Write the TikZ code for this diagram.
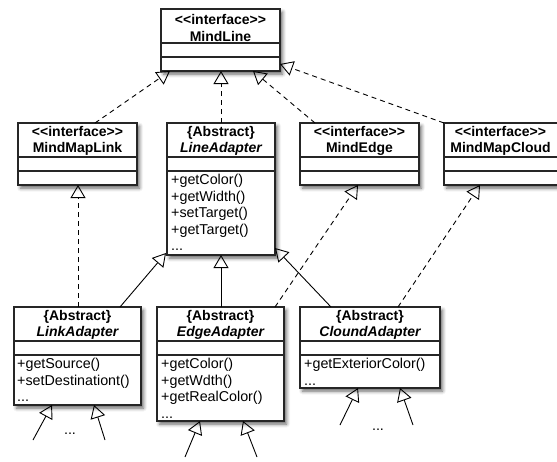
\documentclass[tikz,border=0pt]{standalone}
\usepackage{fontspec}
\setmainfont{Liberation Sans}
\usetikzlibrary{arrows.meta,shadows.blur,calc}

\newcommand{\stereo}[1]{<{}<#1>{}>}

\tikzset{
  classbox/.style={draw=black!85, line width=1.4pt, fill=white, anchor=north west,
    inner sep=0pt, outer sep=0pt,
    blur shadow={shadow xshift=2.5pt, shadow yshift=-3pt, shadow blur radius=3.5pt, shadow opacity=60}},
  divider/.style={draw=black!85, line width=1.4pt},
  titletext/.style={align=center, inner sep=0pt, font=\fontsize{14}{16.5}\selectfont\bfseries},
  membertext/.style={align=left, anchor=north west, inner sep=0pt,
    font=\fontsize{14.3}{16.5}\selectfont},
  realize/.style={draw=black, line width=0.9pt, dash pattern=on 5pt off 4pt,
    -{Triangle[open, length=13pt, width=15pt, line width=0.9pt]}},
  inherit/.style={draw=black, line width=0.9pt,
    -{Triangle[open, length=13pt, width=15pt, line width=0.9pt]}},
}

\begin{document}
\begin{tikzpicture}[x=1pt, y=-1pt]
\useasboundingbox (0,0) rectangle (557,461);

% ---------- interfaces ----------
\node[classbox, minimum width=119pt, minimum height=62pt] (ml) at (161,9) {};
\draw[divider] (161,43) -- (280,43) (161,57) -- (280,57);
\node[titletext] (mlt) at (220.5,28) {\stereo{interface}\\MindLine};

\node[classbox, minimum width=119pt, minimum height=62pt] (mml) at (18,123) {};
\draw[divider] (18,157) -- (137,157) (18,171) -- (137,171);
\node[titletext] (mmlt) at (77.5,141) {\stereo{interface}\\MindMapLink};

\node[classbox, minimum width=119pt, minimum height=62pt] (me) at (300,123) {};
\draw[divider] (300,157) -- (419,157) (300,171) -- (419,171);
\node[titletext] (met) at (359.5,141) {\stereo{interface}\\MindEdge};

\node[classbox, minimum width=115pt, minimum height=62pt] (mmc) at (444,123) {};
\draw[divider] (444,157) -- (559,157) (444,171) -- (559,171);
\node[titletext] (mmct) at (500.5,141) {\stereo{interface}\\MindMapCloud};

% ---------- abstract line adapter ----------
\node[classbox, minimum width=108pt, minimum height=132pt] (la) at (167,123) {};
\draw[divider] (167,157) -- (275,157) (167,171) -- (275,171);
\node[titletext] (lat) at (221,141) {\{Abstract\}\\\itshape LineAdapter};
\node[membertext] (lam) at (171,174) {+getColor()\\+getWidth()\\+setTarget()\\+getTarget()\\...};

% ---------- concrete adapters ----------
\node[classbox, minimum width=127pt, minimum height=98pt] (lka) at (14,307) {};
\draw[divider] (14,341) -- (141,341) (14,355) -- (141,355);
\node[titletext] (lkat) at (77.5,325) {\{Abstract\}\\\itshape LinkAdapter};
\node[membertext] (lkam) at (17,358) {+getSource()\\+setDestinationt()\\...};

\node[classbox, minimum width=127pt, minimum height=114pt] (ea) at (157,307) {};
\draw[divider] (157,341) -- (284,341) (157,355) -- (284,355);
\node[titletext] (eat) at (220.5,325) {\{Abstract\}\\\itshape EdgeAdapter};
\node[membertext] (eam) at (161,358) {+getColor()\\+getWdth()\\+getRealColor()\\...};

\node[classbox, minimum width=140pt, minimum height=81pt] (ca) at (300,307) {};
\draw[divider] (300,341) -- (440,341) (300,355) -- (440,355);
\node[titletext] (cat) at (370,325) {\{Abstract\}\\\itshape CloundAdapter};
\node[membertext] (cam) at (304,358) {+getExteriorColor()\\...};

% ---------- realizations of MindLine ----------
\draw[realize] ($(mml.north west)+(77,0)$) -- ($(ml.south west)+(9,0)$);
\draw[realize] (la.north) -- (la.north |- ml.south);
\draw[realize] ($(me.north west)+(15,0)$) -- ($(ml.south west)+(92,0)$);
\draw[realize] (mmc.north west) -- ($(ml.south east)+(0,-7)$);

% ---------- generalizations of LineAdapter ----------
\draw[inherit] ($(lka.north west)+(106,0)$) -- ($(la.south west)+(-1,-2)$);
\draw[inherit] (la.south |- ea.north) -- (la.south);
\draw[inherit] ($(ca.north west)+(31,0)$) -- ($(la.south east)+(0,-7)$);

% ---------- realizations of the other interfaces ----------
\draw[realize] ($(lka.north west)+(64,0)$) -- ($(mml.south west)+(60,0)$);
\draw[realize] ($(ea.north west)+(118,0)$) -- ($(me.south west)+(58,0)$);
\draw[realize] ($(ca.north west)+(98,0)$) -- ($(mmc.south west)+(36,0)$);

% ---------- further subclasses ----------
\coordinate (s1) at (33,440);
\coordinate (s2) at (105,440);
\coordinate (s3) at (185,457);
\coordinate (s4) at (257,457);
\coordinate (s5) at (340,425);
\coordinate (s6) at (413,425);
\draw[inherit] (s1) -- ($(lka.south west)+(38,0)$);
\draw[inherit] (s2) -- ($(lka.south west)+(80,0)$);
\draw[inherit] (s3) -- ($(ea.south west)+(43,0)$);
\draw[inherit] (s4) -- ($(ea.south west)+(86,0)$);
\draw[inherit] (s5) -- ($(ca.south west)+(58,0)$);
\draw[inherit] (s6) -- ($(ca.south west)+(100,0)$);
\node[membertext, anchor=center] (d1) at (70,434) {...};
\node[membertext, anchor=center] (d2) at (378,430) {...};
\end{tikzpicture}
\end{document}
